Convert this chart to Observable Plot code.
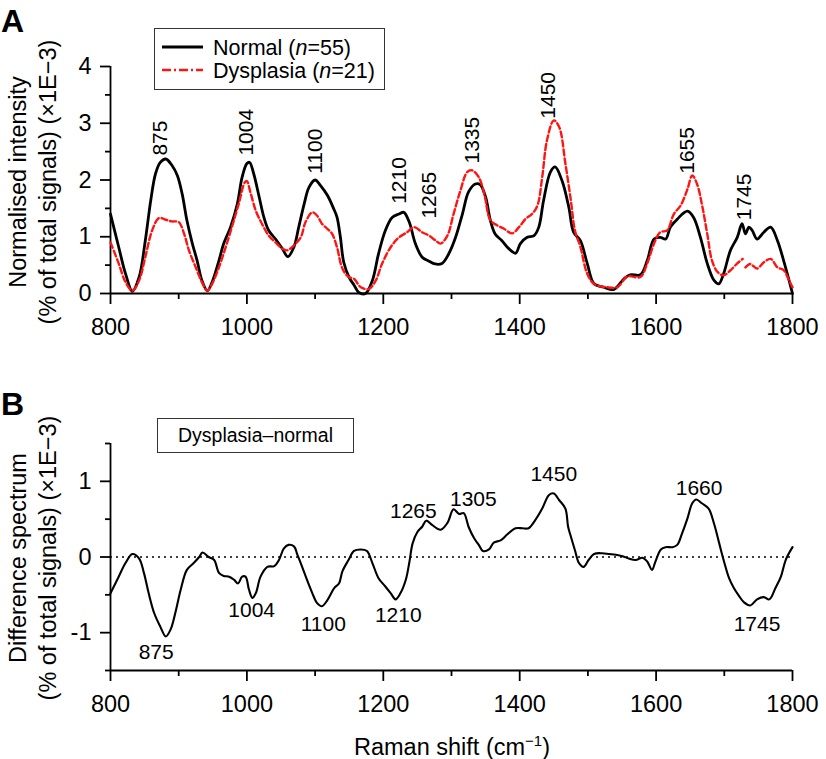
<!DOCTYPE html>
<html>
<head>
<meta charset="utf-8">
<script src="https://cdn.jsdelivr.net/npm/d3@7"></script>
<script src="https://cdn.jsdelivr.net/npm/@observablehq/plot@0.6"></script>
<style>
  html, body { margin: 0; padding: 0; background: #fff; }
  #root { position: relative; width: 826px; height: 759px; font-family: "Liberation Sans", Arial, Helvetica, sans-serif; color: #000; }
  .abs { position: absolute; }
  .ytitle { position: absolute; transform: translate(-50%, -50%) rotate(-90deg); white-space: nowrap; text-align: center; font-size: 23.5px; line-height: 30px; }
  .letter { position: absolute; font-weight: bold; font-size: 32px; line-height: 32px; }
</style>
</head>
<body>
<div id="root"></div>
<script>
// ---------- Data ----------
const xTicks = [800, 1000, 1200, 1400, 1600, 1800];
const xMinorTicks = [900, 1100, 1300, 1500, 1700];
const yTicksA = [0, 1, 2, 3, 4];
const yMinorA = [0.5, 1.5, 2.5, 3.5];
const yTicksB = [-1, 0, 1];
const yMinorB = [-1.5, -0.5, 0.5, 1.5];

const normalX = [800,812,822,832,842,851,859,866,873,881,890,898,905,912,920,927,934,942,949,959,966,976,986,993,1000,1004,1010,1018,1025,1032,1042,1052,1060,1069,1076,1084,1091,1100,1108,1118,1127,1132,1137,1142,1150,1157,1164,1174,1184,1193,1203,1213,1223,1230,1238,1247,1257,1267,1276,1286,1296,1306,1316,1325,1335,1342,1350,1357,1364,1374,1384,1394,1401,1411,1421,1428,1435,1445,1452,1462,1472,1479,1489,1499,1509,1523,1538,1553,1562,1577,1587,1597,1606,1614,1621,1631,1646,1655,1665,1675,1685,1692,1699,1709,1719,1726,1731,1736,1741,1748,1758,1768,1778,1787,1795,1800];
const normalY = [1.40,0.82,0.35,0.04,0.29,0.93,1.64,2.11,2.31,2.37,2.26,2.08,1.76,1.29,0.88,0.58,0.23,0.05,0.20,0.58,0.88,1.17,1.58,2.05,2.29,2.31,2.11,1.70,1.34,1.11,0.96,0.79,0.65,0.82,1.17,1.58,1.87,2.00,1.90,1.73,1.50,1.35,1.00,0.55,0.28,0.15,0.02,0.00,0.23,0.70,1.11,1.34,1.40,1.43,1.26,0.88,0.64,0.57,0.52,0.53,0.70,0.99,1.40,1.79,1.93,1.92,1.70,1.29,1.05,0.93,0.79,0.71,0.88,0.99,1.02,1.17,1.64,2.14,2.23,1.99,1.52,1.08,0.93,0.53,0.17,0.11,0.07,0.26,0.33,0.33,0.58,0.96,0.99,0.96,1.17,1.31,1.45,1.34,0.99,0.53,0.23,0.17,0.35,0.76,0.99,1.23,1.05,1.17,1.11,0.96,1.08,1.17,0.93,0.58,0.23,0.00];

const dysX = [800,812,822,832,842,851,861,871,881,890,900,908,915,925,934,942,949,959,969,978,988,997,1000,1005,1013,1022,1032,1042,1052,1059,1069,1079,1086,1096,1103,1110,1118,1125,1132,1140,1149,1157,1167,1179,1189,1198,1211,1223,1235,1245,1257,1267,1277,1284,1294,1303,1313,1323,1330,1340,1348,1357,1367,1377,1389,1399,1409,1418,1426,1433,1440,1450,1458,1467,1475,1481,1489,1499,1509,1528,1543,1558,1577,1587,1597,1606,1616,1626,1636,1646,1653,1660,1668,1675,1682,1690,1699,1709,1719,1727,1729,1731,1738,1748,1758,1768,1778,1787,1795,1800];
const dysY = [0.90,0.53,0.20,0.05,0.23,0.64,1.11,1.33,1.30,1.27,1.26,1.05,0.76,0.46,0.20,0.05,0.17,0.46,0.82,1.17,1.58,1.96,1.98,1.79,1.46,1.23,1.02,0.90,0.79,0.76,0.85,0.99,1.26,1.43,1.37,1.23,1.14,1.05,0.82,0.44,0.29,0.26,0.11,0.08,0.23,0.52,0.82,0.99,1.08,1.17,1.08,1.02,0.93,0.88,1.02,1.40,1.81,2.14,2.17,2.05,1.76,1.29,1.20,1.14,1.06,1.17,1.32,1.40,1.55,2.05,2.70,3.05,2.93,2.29,1.64,1.11,0.82,0.35,0.17,0.11,0.11,0.30,0.29,0.53,0.88,1.08,1.11,1.40,1.55,1.84,2.08,1.93,1.52,1.05,0.58,0.38,0.32,0.41,0.53,0.61,null,0.46,0.52,0.44,0.55,0.61,0.46,0.41,0.23,0.11];

const diffX = [800,812,822,832,842,849,856,864,873,881,888,895,903,912,922,930,935,944,952,959,966,974,981,987,993,998,1003,1008,1013,1020,1030,1040,1047,1054,1061,1069,1074,1081,1088,1096,1103,1110,1118,1128,1135,1140,1149,1157,1167,1176,1184,1193,1203,1211,1218,1225,1233,1238,1243,1250,1257,1263,1272,1284,1294,1303,1311,1318,1325,1333,1340,1346,1355,1362,1372,1382,1394,1404,1413,1423,1433,1443,1450,1458,1467,1471,1475,1481,1487,1494,1501,1509,1521,1531,1541,1551,1560,1570,1580,1587,1594,1599,1607,1614,1624,1631,1638,1646,1653,1659,1667,1677,1685,1692,1699,1707,1714,1722,1729,1738,1748,1758,1766,1775,1783,1790,1800];
const diffY = [-0.48,-0.26,-0.08,0.04,-0.02,-0.21,-0.48,-0.74,-0.92,-1.05,-0.96,-0.74,-0.43,-0.17,-0.08,0.00,0.06,0.00,-0.04,-0.21,-0.25,-0.26,-0.30,-0.35,-0.26,-0.26,-0.43,-0.54,-0.48,-0.26,-0.13,-0.12,-0.04,0.11,0.16,0.14,0.03,-0.13,-0.30,-0.48,-0.61,-0.65,-0.57,-0.41,-0.35,-0.19,-0.04,0.08,0.10,0.08,-0.08,-0.28,-0.39,-0.48,-0.56,-0.48,-0.30,-0.08,0.18,0.33,0.40,0.48,0.42,0.36,0.45,0.63,0.57,0.58,0.40,0.25,0.16,0.08,0.10,0.19,0.22,0.30,0.38,0.38,0.38,0.49,0.64,0.82,0.84,0.75,0.64,0.40,0.27,0.09,-0.08,-0.13,-0.04,0.04,0.05,0.04,0.03,0.01,-0.02,-0.04,-0.01,-0.06,-0.17,-0.06,0.10,0.13,0.13,0.16,0.31,0.51,0.71,0.76,0.71,0.64,0.44,0.20,-0.04,-0.28,-0.41,-0.52,-0.60,-0.64,-0.56,-0.53,-0.56,-0.41,-0.26,-0.04,0.13];

// Peak annotations (label text and anchor in data units)
const peakAText = ["875", "1004", "1100", "1210", "1265", "1335", "1450", "1655", "1745"];
const peakAX = [873, 999, 1100, 1224, 1268, 1331, 1442, 1645, 1730];
const peakAY = [2.43, 2.43, 2.11, 1.58, 1.32, 2.29, 3.08, 2.11, 1.29];

const peakBText = ["875", "1004", "1100", "1210", "1265", "1305", "1450", "1660", "1745"];
const peakBX = [867, 1007, 1112, 1222, 1244, 1332, 1450, 1663, 1748];
const peakBY = [-1.26, -0.71, -0.89, -0.77, 0.61, 0.76, 1.09, 0.91, -0.89];

const legendLabels = ["Normal", "Dysplasia"];
const legendN = [55, 21];

// ---------- Drawing ----------
const FONT = "'Liberation Sans', Arial, Helvetica, sans-serif";
const AXW = 1.8;
const RED = "#ff1414";
const root = document.getElementById("root");

function axes(yTicks, yMinor, fmt) {
  return [
    Plot.axisX(xTicks, {tickSize: 11, tickPadding: 14, tickFormat: d => String(d), strokeWidth: AXW, label: null, fontSize: 23.5}),
    Plot.axisX(xMinorTicks, {tickSize: 6, tickFormat: () => "", strokeWidth: AXW, label: null}),
    Plot.axisY(yTicks, {tickSize: 10, tickPadding: 9, tickFormat: fmt, strokeWidth: AXW, label: null, fontSize: 23.5}),
    Plot.axisY(yMinor, {tickSize: 5, tickFormat: () => "", strokeWidth: AXW, label: null}),
    Plot.ruleY([Math.min(...yTicks.concat(yMinor))], {strokeWidth: AXW}),
    Plot.ruleX([xTicks[0]], {strokeWidth: AXW})
  ];
}

const plotA = Plot.plot({
  width: 826, height: 330,
  marginTop: 66, marginBottom: 37, marginLeft: 110, marginRight: 34,
  x: {domain: [800, 1800], axis: null},
  y: {domain: [0, 4], axis: null},
  style: {fontFamily: FONT, fontSize: "23px", background: "transparent", overflow: "visible", color: "#000"},
  marks: [
    ...axes(yTicksA, yMinorA, d => String(d)),
    Plot.line(normalY, {x: normalX, y: normalY, stroke: "#000", strokeWidth: 2.8, curve: "catmull-rom"}),
    Plot.line(dysY, {x: dysX, y: dysY, stroke: RED, strokeWidth: 2.4, strokeDasharray: "6,3", curve: "catmull-rom"}),
    Plot.text(peakAText, {x: peakAX, y: peakAY, text: d => d, rotate: -90, textAnchor: "start", fontSize: 21, fill: "#000"})
  ]
});
plotA.style.position = "absolute";
plotA.style.left = "0px";
plotA.style.top = "0px";
root.appendChild(plotA);

const plotB = Plot.plot({
  width: 826, height: 429,
  marginTop: 113, marginBottom: 89, marginLeft: 110, marginRight: 34,
  x: {domain: [800, 1800], axis: null},
  y: {domain: [-1.5, 1.5], axis: null},
  style: {fontFamily: FONT, fontSize: "23px", background: "transparent", overflow: "visible", color: "#000"},
  marks: [
    ...axes(yTicksB, yMinorB, d => String(d)),
    Plot.ruleY([0], {stroke: "#000", strokeWidth: 1.4, strokeDasharray: "2,4"}),
    Plot.line(diffY, {x: diffX, y: diffY, stroke: "#000", strokeWidth: 2.1, curve: "catmull-rom"}),
    Plot.text(peakBText, {x: peakBX, y: peakBY, text: d => d, fontSize: 21, fill: "#000"})
  ]
});
plotB.style.position = "absolute";
plotB.style.left = "0px";
plotB.style.top = "330px";
root.appendChild(plotB);

// Panel letters
function addDiv(cls, html, css) {
  const d = document.createElement("div");
  d.className = cls;
  d.innerHTML = html;
  Object.assign(d.style, css);
  root.appendChild(d);
  return d;
}
addDiv("letter", "A", {left: "1px", top: "5px"});
addDiv("letter", "B", {left: "1px", top: "388px"});

// Y-axis titles
addDiv("ytitle", "Normalised intensity<br>(% of total signals) (×1E−3)", {left: "33px", top: "182px"});
addDiv("ytitle", "Difference spectrum<br>(% of total signals) (×1E−3)", {left: "33px", top: "558px"});

// X-axis title
addDiv("abs", "Raman shift (cm<sup style='font-size:15px;vertical-align:9px'>−1</sup>)",
  {left: "452px", top: "727px", transform: "translateX(-50%)", fontSize: "23.5px", whiteSpace: "nowrap", lineHeight: "28px"});

// Legend for panel A
const legA = addDiv("abs", "", {left: "154px", top: "28px", width: "231px", height: "62px", border: "1.5px solid #333", boxSizing: "border-box", background: "#fff"});
const legSvg = d3.select(legA).append("svg").attr("width", 231).attr("height", 62).style("display", "block")
  .style("position", "absolute").style("left", "-1.5px").style("top", "-1.5px");
const legStyles = [{stroke: "#000", dash: null, w: 2.8}, {stroke: RED, dash: "9,3,2,3", w: 2.4}];
legendLabels.forEach((lab, i) => {
  const cy = 19 + i * 23;
  legSvg.append("line").attr("x1", 8).attr("x2", 49).attr("y1", cy).attr("y2", cy)
    .attr("stroke", legStyles[i].stroke).attr("stroke-width", legStyles[i].w)
    .attr("stroke-dasharray", legStyles[i].dash);
  const t = legSvg.append("text").attr("x", 59).attr("y", cy + 7.5)
    .attr("font-family", FONT).attr("font-size", 21.5).attr("fill", "#000");
  t.append("tspan").text(lab + " (");
  t.append("tspan").attr("font-style", "italic").text("n");
  t.append("tspan").text("=" + legendN[i] + ")");
});

// Label box for panel B
addDiv("abs", "Dysplasia–normal", {left: "157px", top: "418px", width: "197px", height: "35px", border: "1.5px solid #333", boxSizing: "border-box",
  fontSize: "19.5px", lineHeight: "32px", textAlign: "center", background: "#fff"});
</script>
</body>
</html>
